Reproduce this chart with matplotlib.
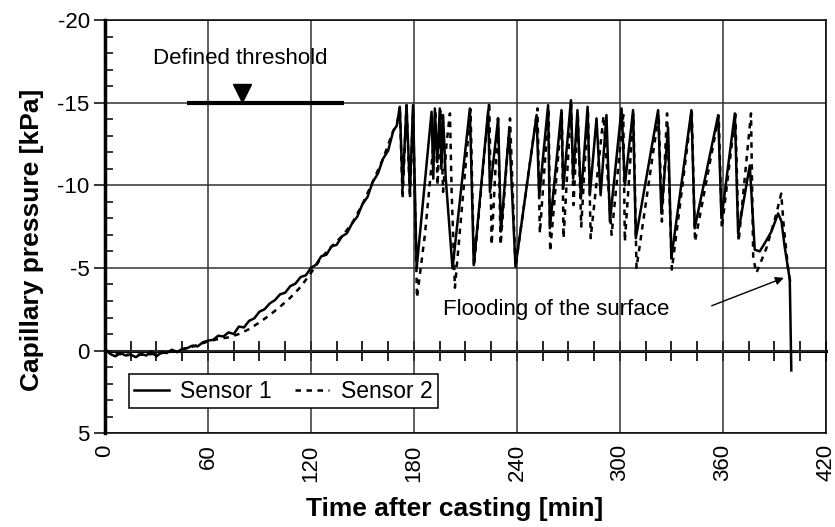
import numpy as np
import matplotlib
matplotlib.use("Agg")
import matplotlib.pyplot as plt
from matplotlib.ticker import MultipleLocator

# sensor 1 readings (time in min, capillary pressure in kPa)
t1 = [0, 3, 6, 9, 12, 15, 18, 21, 24, 27, 30, 33, 36, 39, 42, 45, 48, 51, 54, 57,
      60, 63, 66, 69, 72, 75, 78, 81, 84, 87, 90, 93, 96, 99, 102, 105, 108, 111,
      114, 117, 120, 123, 126, 129, 132, 135, 138, 141, 144, 147, 150, 153, 156,
      159, 162, 165, 168, 170,
      171.8, 173.4, 175.7, 177.7, 179.5, 181.6, 190.3, 191.3, 192.2, 193.6, 195.1,
      196, 197, 198.5, 202.5, 212.6, 214.9, 223.3, 224.3, 229.1, 230.7, 235.5,
      239.2, 251.5, 253, 258.2, 259.2, 266, 267, 271.5, 272.8, 275.3, 277.3, 281.2,
      282.5, 286.4, 288.8, 292.2, 294.2, 301, 302.9, 307.7, 309.3, 322.3, 324.2,
      328.1, 330, 341.7, 343.6, 357.3, 359.2, 367, 368.9, 375.7, 378.6, 381.5,
      385, 388.3, 392.2, 394.2, 396, 399, 399.9]
p1 = [-0.1, 0.2, 0.35, 0.15, 0.3, 0.25, 0.4, 0.2, 0.3, 0.05, 0.35, 0.1, 0.15, -0.05,
      0.1, -0.1, -0.15, -0.3, -0.25, -0.5,
      -0.6, -0.65, -0.9, -0.85, -1.1, -1.0, -1.45, -1.4, -1.8, -1.95, -2.35, -2.5,
      -2.85, -3.05, -3.4, -3.5, -3.9, -4.05, -4.45, -4.55, -5.0, -5.2, -5.7, -5.8,
      -6.3, -6.4, -6.9, -7.1, -7.7, -8.1, -8.85, -9.3, -10.2, -10.7, -11.6, -12.1,
      -13.3, -13.6,
      -14.75, -9.8, -14.85, -9.6, -14.85, -4.97, -14.45, -10.4, -14.65, -11.4, -14.65,
      -11.0, -14.25, -10.5, -4.97, -14.65, -5.17, -14.55, -9.6, -14.05, -7.2, -13.3,
      -5.07, -14.25, -9.3, -14.85, -7.4, -14.55, -9.8, -15.15, -10.4, -14.55, -9.2, -14.75,
      -9.4, -14.05, -9.4, -14.25, -7.8, -14.65, -10.0, -14.55, -6.8, -14.55, -8.3,
      -13.5, -5.6, -14.55, -7.4, -14.25, -8.0, -14.35, -7.1, -11.2, -6.1, -6.0,
      -6.6, -7.2, -8.3, -7.8, -6.3, -4.3, 1.2]

# sensor 2 readings
t2 = [0, 10, 20, 30, 40, 50, 60, 66, 72, 78, 84, 90, 96, 102, 108, 114, 120, 126,
      132, 138, 144, 150, 156, 162, 168, 170,
      171.8, 173.4, 175.7, 177.7, 179.5, 181.8, 186.4, 191, 192.5, 193.8, 195.5,
      197, 199, 201, 202, 203.9, 213, 215, 223.9, 225.3, 229, 230.5, 236, 239.2,
      252, 253.4, 258.5, 259.4, 266.2, 267.2, 271.6, 273, 275.5, 277.5, 281.4, 283,
      290.5, 295.2, 302, 302.9, 307.9, 309.7, 322.6, 324.5, 327.5, 330.3, 341.9,
      343.8, 357.6, 359.4, 367.3, 369.2, 376.4, 377.7, 379.6, 385.4, 391, 394,
      395.5, 398, 399.5]
p2 = [0.0, 0.25, 0.25, 0.2, 0.05, -0.2, -0.55, -0.7, -0.8, -1.0, -1.3, -1.7, -2.15,
      -2.65, -3.2, -3.85, -4.7, -5.6, -6.3, -6.9, -7.7, -8.85, -10.2, -11.6, -13.3, -13.6,
      -14.75, -9.2, -14.85, -9.2, -14.5, -3.2, -7.0, -12.0, -14.5, -10.0, -14.6,
      -9.6, -12.5, -14.35, -9.6, -3.8, -14.6, -5.1, -15.05, -6.4, -14.05, -6.4, -14.05, -5.07,
      -14.65, -7.1, -14.6, -6.0, -14.4, -6.8, -14.9, -8.8, -14.4, -7.5, -14.6, -6.8,
      -14.2, -7.0, -14.25, -6.6, -14.3, -5.0, -14.3, -7.8, -14.35, -4.9, -14.5,
      -6.6, -14.2, -7.4, -14.3, -6.6, -14.35, -5.6, -4.7, -6.2, -8.2, -9.5,
      -7.5, -5.0, -4.0]

# threshold bar and annotations
thr_start, thr_end, thr_level = 48, 139, -15
thr_marker = (80, -15.6)
thr_text = (78.6, -17.7)
flood_text = (263, -2.5)
flood_tail = (352, -2.65)
flood_head = (397, -4.46)

xticks = [0, 60, 120, 180, 240, 300, 360, 420]
yticks = [-20, -15, -10, -5, 0, 5]

plt.rcParams['font.family'] = ['Liberation Sans', 'DejaVu Sans']
plt.rcParams['axes.unicode_minus'] = False

fig = plt.figure(figsize=(8.35, 5.27), dpi=100)
ax = fig.add_axes([0.1257, 0.178, 0.8633, 0.784])

ax.plot(t1, p1, color='black', lw=1.8, label='Sensor 1', zorder=4)
ax.plot(t2, p2, color='black', lw=1.8, ls=(0, (2.2, 2.2)), label='Sensor 2', zorder=3)

ax.set_xlim(0, 420)
ax.set_ylim(5, -20)
ax.set_xticks(xticks)
ax.set_yticks(yticks)
ax.yaxis.set_minor_locator(MultipleLocator(1))
ax.grid(True, which='major', color='#333333', lw=1.1)
ax.set_axisbelow(True)

ax.tick_params(axis='x', which='major', length=0, pad=8, labelsize=16, labelrotation=90)
ax.tick_params(axis='y', which='major', direction='out', length=8, width=1.1, labelsize=16, pad=3)
ax.tick_params(axis='y', which='minor', direction='in', length=6, width=1.1)

for side in ['top', 'right', 'bottom']:
    ax.spines[side].set_linewidth(1.1)
ax.spines['left'].set_linewidth(2.5)

# axis line at zero pressure with 15 min ticks
zero_ax = ax.secondary_xaxis(0.2)
zero_ax.spines['bottom'].set_linewidth(2.2)
zero_ax.set_xticks(np.arange(0, 421, 15))
zero_ax.tick_params(direction='inout', length=14, width=1.2, labelbottom=False)

ax.set_xlabel('Time after casting [min]', fontsize=19, fontweight='bold')
ax.set_ylabel('Capillary pressure [kPa]', fontsize=19, fontweight='bold')
ax.xaxis.set_label_coords(0.485, -0.155)
ax.yaxis.set_label_coords(-0.085, 0.467)

# defined threshold
ax.plot([thr_start, thr_end], [thr_level, thr_level], color='black', lw=3, solid_capstyle='butt')
ax.plot(*thr_marker, marker='v', color='black', markersize=13)
ax.text(*thr_text, 'Defined threshold', fontsize=16, ha='center', va='center')

ax.text(*flood_text, 'Flooding of the surface', fontsize=16, ha='center', va='center')
ax.annotate('', xy=flood_head, xytext=flood_tail,
            arrowprops=dict(arrowstyle='-|>', lw=1.0, color='black', mutation_scale=12))

leg = ax.legend(loc='lower left', bbox_to_anchor=(0.033, 0.06), ncol=2, fontsize=16.5,
                frameon=True, fancybox=False, framealpha=1, edgecolor='black',
                handlelength=1.5, handletextpad=0.5, columnspacing=1.0,
                borderpad=0.25, borderaxespad=0)
leg.get_frame().set_linewidth(1.1)

fig.savefig('out.png', dpi=100)
